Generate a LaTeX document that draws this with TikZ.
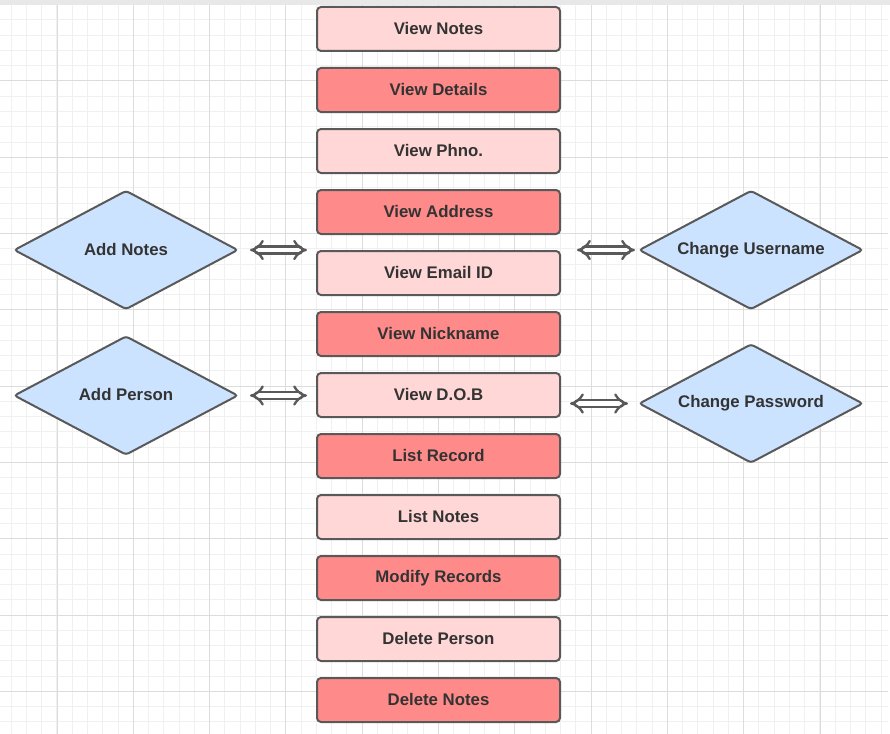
\documentclass[tikz,border=0pt]{standalone}
\usepackage{fontspec}
\setmainfont{Liberation Sans}
\usetikzlibrary{shapes.geometric,arrows.meta}

\definecolor{recLight}{HTML}{FFD7D7}
\definecolor{recDark}{HTML}{FF8A8A}
\definecolor{diaFill}{HTML}{CCE3FF}
\definecolor{edgeGray}{HTML}{595959}
\definecolor{textGray}{HTML}{333333}
\definecolor{gridMinor}{HTML}{F0F0F0}
\definecolor{gridMajor}{HTML}{DCDCDC}

\tikzset{
  rec/.style={draw=edgeGray, line width=2pt, rounded corners=4pt,
    minimum width=243pt, minimum height=44pt, inner sep=0pt,
    font=\fontsize{16.8}{18}\selectfont\bfseries, text=textGray},
  dia/.style={diamond, aspect=1.87, draw=edgeGray, fill=diaFill, line width=2pt,
    rounded corners=3pt, minimum width=224pt, minimum height=119pt,
    inner sep=0pt, font=\fontsize{16.8}{18}\selectfont\bfseries, text=textGray},
  dblarrow/.style={draw=edgeGray, line width=2.3pt, double=white,
    double distance=4.5pt, line join=round, line cap=round,
    {Implies[round]}-{Implies[round]}}
}

\begin{document}
\begin{tikzpicture}[x=1pt, y=-1pt]
\useasboundingbox (0,0) rectangle (890,733);
\fill[white] (0,0) rectangle (890,733);

\begin{scope}
  \clip (0,5) rectangle (888,733);
  \begin{scope}[shift={(11.2,4.7)}]
    \draw[gridMinor, line width=1pt, step=15.26pt] (-20,-20) grid (900,740);
  \end{scope}
  \begin{scope}[shift={(57,81)}]
    \draw[gridMajor, line width=1pt, step=76.3pt] (-80,-90) grid (850,660);
  \end{scope}
\end{scope}
\fill[gray!18] (0,0) rectangle (890,5);

% column of records
\foreach \lbl [count=\i] in {View Notes, View Details, View Phno., View Address,
    View Email ID, View Nickname, View D.O.B, List Record, List Notes,
    Modify Records, Delete Person, Delete Notes}{
  \ifodd\i \def\recFill{recLight}\else \def\recFill{recDark}\fi
  \node[rec, fill=\recFill] (rec\i) at (438.5, {29+61*(\i-1)}) {\raisebox{2pt}{\lbl}};
}

\node[dia] (addNotes) at (126,250) {\raisebox{2pt}{Add Notes}};
\node[dia] (addPerson) at (126,395.5) {\raisebox{2pt}{Add Person}};
\node[dia] (chUser) at (751,250) {\raisebox{2pt}{Change Username}};
\node[dia] (chPass) at (751,403.5) {\raisebox{2pt}{Change Password}};

\draw[dblarrow] ([xshift=11pt]addNotes.east) -- ([xshift=-9pt]addNotes.east -| rec5.west);
\draw[dblarrow] ([xshift=11pt]addPerson.east) -- ([xshift=-9pt]addPerson.east -| rec7.west);
\draw[dblarrow] ([xshift=16pt]chUser.west -| rec5.east) -- ([xshift=-3pt]chUser.west);
\draw[dblarrow] ([xshift=9pt]chPass.west -| rec7.east) -- ([xshift=-10pt]chPass.west);
\end{tikzpicture}
\end{document}
